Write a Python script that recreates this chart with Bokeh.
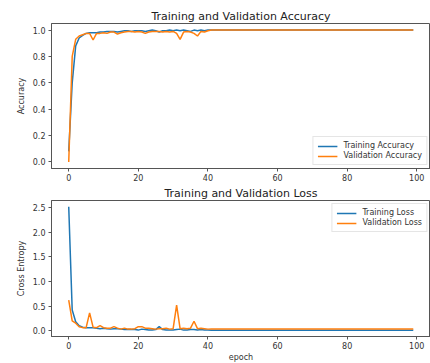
from bokeh.plotting import figure
from bokeh.layouts import column
from bokeh.models import FixedTicker, NumeralTickFormatter, Legend, LegendItem
from bokeh.embed import file_html
from bokeh.resources import INLINE

epochs = list(range(100))

train_acc = [
    0.08, 0.60, 0.88, 0.94, 0.96, 0.975, 0.98, 0.98, 0.98, 0.985,
    0.985, 0.99, 0.99, 0.99, 0.985, 0.99, 0.995, 0.995, 0.99, 0.995,
    0.995, 0.995, 0.99, 0.995, 1.0, 0.995, 0.985, 0.995, 0.995, 1.0,
    0.995, 1.0, 0.995, 1.0, 0.995, 0.99, 1.0, 0.995, 1.0, 0.995,
    1.0, 1.0, 1.0, 1.0, 1.0, 1.0, 1.0, 1.0, 1.0, 1.0,
    1.0, 1.0, 1.0, 1.0, 1.0, 1.0, 1.0, 1.0, 1.0, 1.0,
    1.0, 1.0, 1.0, 1.0, 1.0, 1.0, 1.0, 1.0, 1.0, 1.0,
    1.0, 1.0, 1.0, 1.0, 1.0, 1.0, 1.0, 1.0, 1.0, 1.0,
    1.0, 1.0, 1.0, 1.0, 1.0, 1.0, 1.0, 1.0, 1.0, 1.0,
    1.0, 1.0, 1.0, 1.0, 1.0, 1.0, 1.0, 1.0, 1.0, 1.0,
]
val_acc = [
    0.0, 0.80, 0.93, 0.955, 0.965, 0.975, 0.975, 0.925, 0.975, 0.975,
    0.98, 0.975, 0.985, 0.985, 0.97, 0.98, 0.985, 0.99, 0.99, 0.985,
    0.99, 0.985, 0.975, 0.985, 0.99, 0.99, 0.99, 0.985, 0.99, 0.985,
    0.99, 0.975, 0.93, 0.985, 0.99, 0.985, 0.975, 0.955, 0.99, 0.985,
    0.995, 1.0, 1.0, 1.0, 1.0, 1.0, 1.0, 1.0, 1.0, 1.0,
    1.0, 1.0, 1.0, 1.0, 1.0, 1.0, 1.0, 1.0, 1.0, 1.0,
    1.0, 1.0, 1.0, 1.0, 1.0, 1.0, 1.0, 1.0, 1.0, 1.0,
    1.0, 1.0, 1.0, 1.0, 1.0, 1.0, 1.0, 1.0, 1.0, 1.0,
    1.0, 1.0, 1.0, 1.0, 1.0, 1.0, 1.0, 1.0, 1.0, 1.0,
    1.0, 1.0, 1.0, 1.0, 1.0, 1.0, 1.0, 1.0, 1.0, 1.0,
]
train_loss = [
    2.52, 0.42, 0.18, 0.10, 0.07, 0.06, 0.06, 0.06, 0.05, 0.04,
    0.05, 0.04, 0.03, 0.04, 0.04, 0.03, 0.02, 0.02, 0.02, 0.02,
    0.01, 0.03, 0.02, 0.01, 0.01, 0.02, 0.08, 0.02, 0.01, 0.01,
    0.01, 0.02, 0.03, 0.01, 0.01, 0.02, 0.02, 0.01, 0.02, 0.01,
    0.01, 0.005, 0.005, 0.005, 0.005, 0.005, 0.005, 0.005, 0.005, 0.005,
    0.005, 0.005, 0.005, 0.005, 0.005, 0.005, 0.005, 0.005, 0.005, 0.005,
    0.005, 0.005, 0.005, 0.005, 0.005, 0.005, 0.005, 0.005, 0.005, 0.005,
    0.005, 0.005, 0.005, 0.005, 0.005, 0.005, 0.005, 0.005, 0.005, 0.005,
    0.005, 0.005, 0.005, 0.005, 0.005, 0.005, 0.005, 0.005, 0.005, 0.005,
    0.005, 0.005, 0.005, 0.005, 0.005, 0.005, 0.005, 0.005, 0.005, 0.005,
]
val_loss = [
    0.62, 0.20, 0.15, 0.08, 0.06, 0.06, 0.36, 0.07, 0.06, 0.10,
    0.06, 0.05, 0.05, 0.08, 0.05, 0.03, 0.05, 0.03, 0.03, 0.04,
    0.08, 0.08, 0.05, 0.05, 0.04, 0.03, 0.04, 0.04, 0.05, 0.03,
    0.04, 0.52, 0.04, 0.05, 0.04, 0.05, 0.19, 0.04, 0.05, 0.04,
    0.03, 0.035, 0.035, 0.035, 0.035, 0.035, 0.035, 0.035, 0.035, 0.035,
    0.035, 0.035, 0.035, 0.035, 0.035, 0.035, 0.035, 0.035, 0.035, 0.035,
    0.035, 0.035, 0.035, 0.035, 0.035, 0.035, 0.035, 0.035, 0.035, 0.035,
    0.035, 0.035, 0.035, 0.035, 0.035, 0.035, 0.035, 0.035, 0.035, 0.035,
    0.035, 0.035, 0.035, 0.035, 0.035, 0.035, 0.035, 0.035, 0.035, 0.035,
    0.035, 0.035, 0.035, 0.035, 0.035, 0.035, 0.035, 0.035, 0.035, 0.035,
]

x_ticks = [0, 20, 40, 60, 80, 100]
acc_ticks = [0.0, 0.2, 0.4, 0.6, 0.8, 1.0]
loss_ticks = [0.0, 0.5, 1.0, 1.5, 2.0, 2.5]

BLUE = "#1f77b4"
ORANGE = "#ff7f0e"
FONT = "DejaVu Sans"


def style(p, yticks):
    p.title.align = "center"
    p.title.text_font = FONT
    p.title.text_font_size = "11px"
    p.title.text_font_style = "normal"
    p.title.text_color = "#222222"
    p.title.standoff = 2
    p.grid.visible = False
    p.outline_line_color = "#555555"
    p.outline_line_width = 1
    p.background_fill_color = "white"
    for ax in (p.xaxis[0], p.yaxis[0]):
        ax.axis_line_color = "#555555"
        ax.major_tick_line_color = "#555555"
        ax.major_tick_out = 3
        ax.major_tick_in = 0
        ax.minor_tick_line_color = None
        ax.major_label_text_font = FONT
        ax.major_label_text_font_size = "8px"
        ax.major_label_text_color = "#333333"
        ax.major_label_standoff = 3
        ax.axis_label_text_font = FONT
        ax.axis_label_text_font_size = "8px"
        ax.axis_label_text_font_style = "normal"
        ax.axis_label_text_color = "#333333"
        ax.axis_label_standoff = 4
    p.xaxis.major_label_standoff = 2
    p.xaxis.ticker = FixedTicker(ticks=x_ticks)
    p.yaxis.ticker = FixedTicker(ticks=yticks)
    p.yaxis.formatter = NumeralTickFormatter(format="0.0")


p1 = figure(frame_width=379, frame_height=145, output_backend="svg", toolbar_location=None,
            title="Training and Validation Accuracy",
            x_range=(-4.95, 103.95), y_range=(-0.05, 1.05),
            min_border_left=51, min_border_right=0, min_border_top=23, min_border_bottom=14)
r1 = p1.line(epochs, train_acc, line_color=BLUE, line_width=1.5)
r2 = p1.line(epochs, val_acc, line_color=ORANGE, line_width=1.5)
p1.yaxis.axis_label = "Accuracy"
style(p1, acc_ticks)
leg1 = Legend(items=[LegendItem(label="Training Accuracy", renderers=[r1]),
                     LegendItem(label="Validation Accuracy", renderers=[r2])],
              location="bottom_right")
p1.add_layout(leg1)

p2 = figure(frame_width=379, frame_height=136, output_backend="svg", toolbar_location=None,
            title="Training and Validation Loss",
            x_range=(-4.95, 103.95), y_range=(-0.12, 2.646),
            min_border_left=51, min_border_right=0, min_border_top=15, min_border_bottom=21)
r3 = p2.line(epochs, train_loss, line_color=BLUE, line_width=1.5)
r4 = p2.line(epochs, val_loss, line_color=ORANGE, line_width=1.5)
p2.yaxis.axis_label = "Cross Entropy"
p2.xaxis.axis_label = "epoch"
style(p2, loss_ticks)
p2.xaxis.axis_label_standoff = 1
leg2 = Legend(items=[LegendItem(label="Training Loss", renderers=[r3]),
                     LegendItem(label="Validation Loss", renderers=[r4])],
              location="top_right")
p2.add_layout(leg2)

for lg in (leg1, leg2):
    lg.label_text_font = FONT
    lg.label_text_font_size = "8px"
    lg.label_text_color = "#333333"
    lg.glyph_width = 20
    lg.glyph_height = 8
    lg.label_height = 8
    lg.spacing = 1
    lg.padding = 4
    lg.margin = 3
    lg.label_standoff = 6
    lg.border_line_color = "#cccccc"
    lg.background_fill_alpha = 0.8

layout = column(p1, p2, spacing=0)
open("out.html", "w").write(file_html(layout, INLINE))
